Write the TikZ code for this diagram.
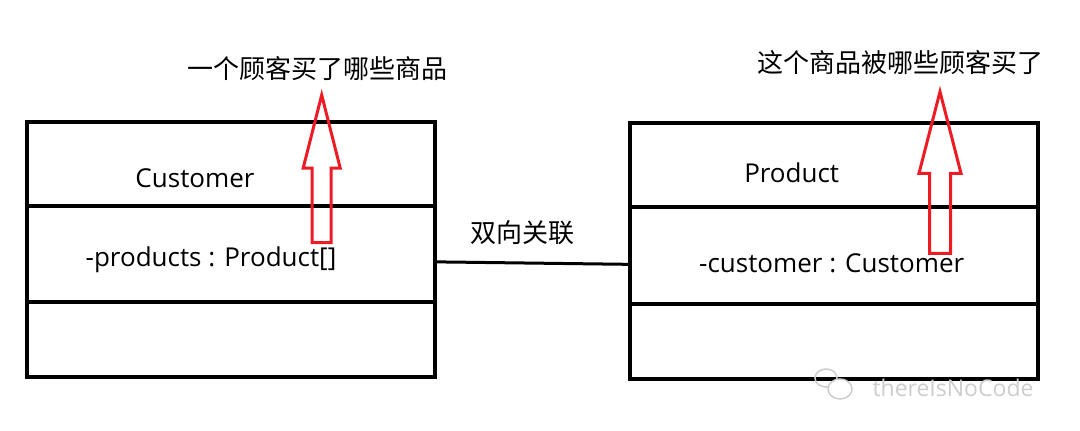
\documentclass[tikz,border=0pt]{standalone}
\usepackage{fontspec}
\setmainfont{Open Sans}
\newfontfamily\cjk{Noto Sans CJK SC}
\usetikzlibrary{positioning}
\definecolor{ink}{RGB}{0,0,0}
\definecolor{hintred}{RGB}{237,28,36}
\definecolor{wm}{RGB}{205,205,205}
\tikzset{
  part/.style={draw=ink,line width=4pt,minimum width=408pt,inner sep=0,outer sep=0,anchor=north west},
  umltext/.style={font=\fontsize{26}{30}\selectfont,text=ink,inner sep=0},
  note/.style={font=\cjk\fontsize{26}{30}\selectfont,text=ink,inner sep=0},
  wire/.style={ink,line width=3pt}
}

\begin{document}
\begin{tikzpicture}[x=1pt,y=-1pt]
  \useasboundingbox (0,0) rectangle (1080,431);
  % Customer class
  \node[part,minimum height=84.3pt] (custName) at (26.7,121.7) {};
  \node[part,minimum height=95.7pt] (custAttr) at (custName.south west) {};
  \node[part,minimum height=75pt] (custOps) at (custAttr.south west) {};
  \node[umltext] (custTitle) at (195,178) {Customer};
  \node[umltext] (custField) at (211,260) {-products : Product[]};
  % Product class
  \node[part,minimum height=83.4pt] (prodName) at (630,123.3) {};
  \node[part,minimum height=97.3pt] (prodAttr) at (prodName.south west) {};
  \node[part,minimum height=75.3pt] (prodOps) at (prodAttr.south west) {};
  \node[umltext] (prodTitle) at (791.7,173) {Product};
  \node[umltext] (prodField) at (831.7,263) {-customer : Customer};
  % association
  \draw[wire] ([yshift=-8pt]custAttr.east) -- ([yshift=-9pt]prodAttr.west);
  \node[note] (assoc) at (522,233) {双向关联};
  % red hint arrows
  \foreach \tipx/\tipy/\head/\shaft/\neck/\tail in {321.7/95/18.5/9.5/168/242.7, 940/91.7/21/10.5/173.3/253.3}{
    \draw[hintred,line width=3pt,line join=miter] (\tipx,\tipy) -- (\tipx+\head,\neck) -- (\tipx+\shaft,\neck)
      -- (\tipx+\shaft,\tail) -- (\tipx-\shaft,\tail) -- (\tipx-\shaft,\neck) -- (\tipx-\head,\neck) -- cycle;}
  \node[note] (custNote) at (317,69) {一个顾客买了哪些商品};
  \node[note] (prodNote) at (900,63) {这个商品被哪些顾客买了};
  % watermark
  \draw[wm,line width=1.5pt] (826,378) ellipse (11pt and 9pt);
  \draw[wm,line width=1.5pt,fill=white] (840,389) ellipse (12pt and 10pt);
  \node[font=\fontsize{23}{26}\selectfont,text=wm,inner sep=0] (brand) at (953,388) {thereIsNoCode};
\end{tikzpicture}
\end{document}
